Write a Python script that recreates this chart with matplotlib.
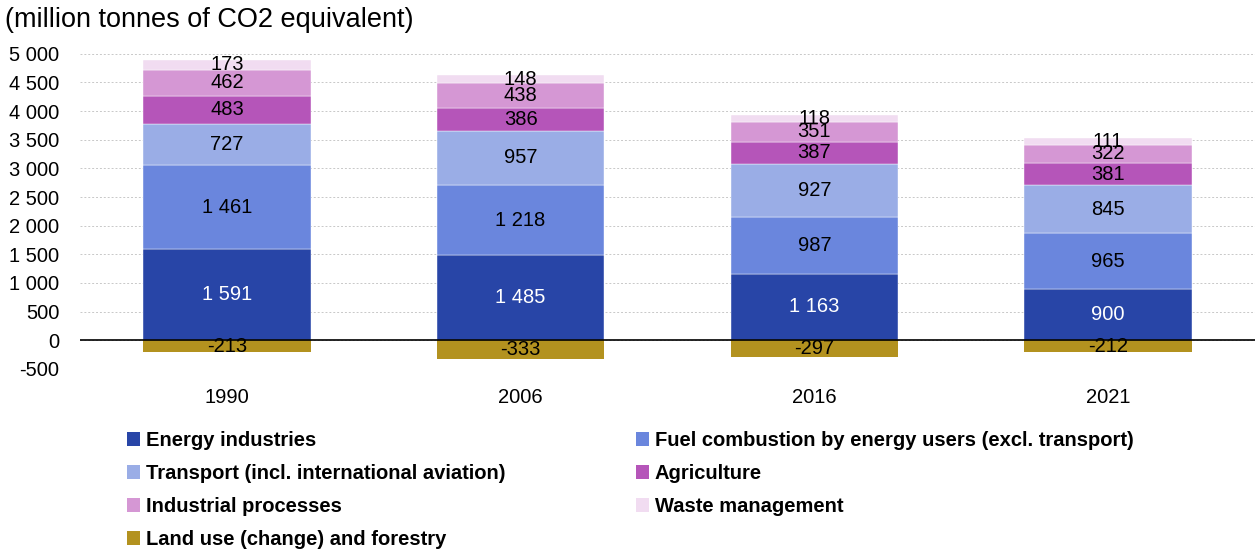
import matplotlib.pyplot as plt
from matplotlib.patches import Patch

plt.rcParams['font.family'] = ['Liberation Sans', 'DejaVu Sans']

years = ['1990', '2006', '2016', '2021']

energy_industries = [1591, 1485, 1163, 900]
fuel_combustion = [1461, 1218, 987, 965]
transport = [727, 957, 927, 845]
agriculture = [483, 386, 387, 381]
industrial = [462, 438, 351, 322]
waste = [173, 148, 118, 111]
land_use = [-213, -333, -297, -212]

labels = ['Energy industries',
          'Fuel combustion by energy users (excl. transport)',
          'Transport (incl. international aviation)',
          'Agriculture',
          'Industrial processes',
          'Waste management',
          'Land use (change) and forestry']
colors = ['#2845a7', '#6a86dd', '#9aade6', '#b555b9', '#d597d4', '#f1dcf1', '#b3921f']
text_colors = ['white', 'black', 'black', 'black', 'black', 'black', 'black']


def fmt(v):
    return '{:,}'.format(v).replace(',', ' ')


fig = plt.figure(figsize=(12.58, 5.49), dpi=100)
ax = fig.add_axes([0.0636, 0.328, 0.934, 0.574])

x = list(range(len(years)))
width = 0.57
positive = [energy_industries, fuel_combustion, transport, agriculture, industrial, waste]

bottom = [0] * len(years)
for i, serie in enumerate(positive):
    ax.bar(x, serie, width, bottom=bottom, color=colors[i], edgecolor='white', linewidth=0.3, zorder=2)
    for j, v in enumerate(serie):
        ax.text(x[j], bottom[j] + v / 2, fmt(v), ha='center', va='center',
                fontsize=14.5, color=text_colors[i], zorder=4)
    bottom = [b + v for b, v in zip(bottom, serie)]

ax.bar(x, land_use, width, color=colors[6], zorder=2)
for j, v in enumerate(land_use):
    ax.text(x[j], v / 2, fmt(v), ha='center', va='center', fontsize=14.5, color='black', zorder=4)

ax.axhline(0, color='black', linewidth=1.2, zorder=3)

ax.set_xlim(-0.5, 3.5)
ax.set_ylim(-500, 5000)
ax.set_yticks(range(-500, 5001, 500))
ax.set_yticklabels([fmt(t) if t != -500 else '-500' for t in range(-500, 5001, 500)])
ax.yaxis.grid(True, color='#c8c8c8', linestyle=(0, (2, 2)), linewidth=0.7, zorder=0)
ax.set_xticks(x)
ax.set_xticklabels(years)
ax.tick_params(axis='both', length=0, labelsize=14.5)
ax.tick_params(axis='y', pad=15)
ax.tick_params(axis='x', pad=14)
for s in ax.spines.values():
    s.set_visible(False)

fig.text(0.004, 0.963, '(million tonnes of CO2 equivalent)', fontsize=19.5, ha='left', va='center')

order = [0, 2, 4, 6, 1, 3, 5]
handles = [Patch(facecolor=colors[k], edgecolor='none') for k in order]
fig.legend(handles, [labels[k] for k in order], ncol=2, loc='upper left',
           bbox_to_anchor=(0.101, 0.215), frameon=False,
           prop={'weight': 'bold', 'size': 14.5},
           handlelength=0.65, handleheight=0.65, handletextpad=0.3,
           columnspacing=6.45, labelspacing=0.7, borderpad=0, borderaxespad=0)

fig.savefig('out.png', dpi=100)
